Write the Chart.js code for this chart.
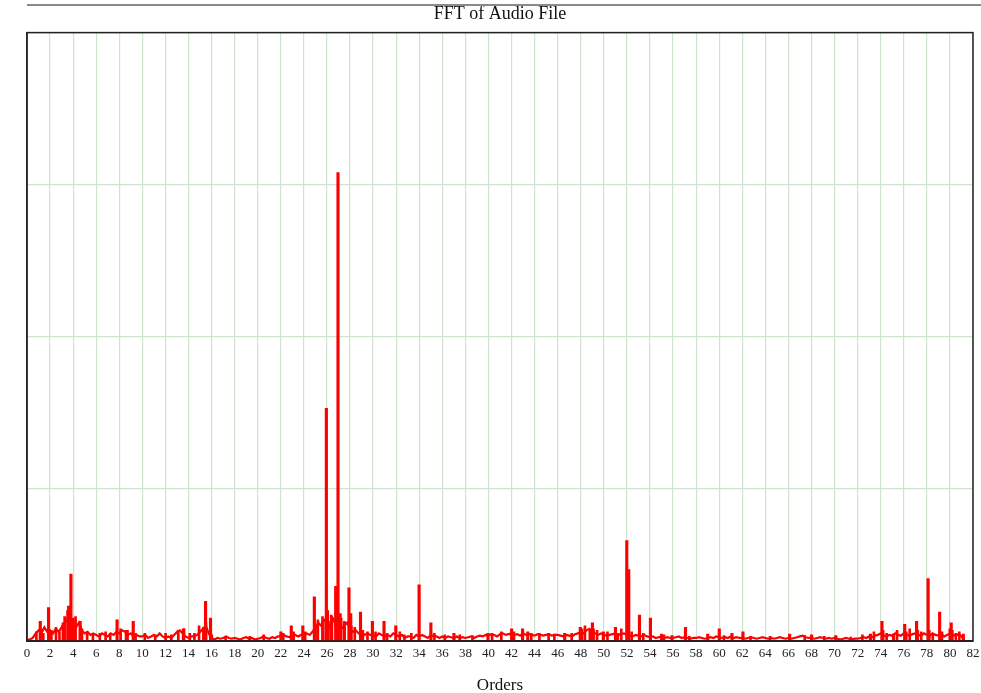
<!DOCTYPE html>
<html>
<head>
<meta charset="utf-8">
<script src="https://cdn.jsdelivr.net/npm/chart.js@4"></script>
<style>
  body { margin: 0; background: #fff; overflow: hidden; }
  #wrap { position: relative; width: 981px; height: 693px; overflow: hidden; }
  #topline { position: absolute; left: 27px; top: 4px; width: 954px; border-top: 2px solid #8a8a8a; }
</style>
</head>
<body>
<div id="wrap">
  <div id="topline"></div>
  <canvas id="myChart" width="990" height="693"></canvas>
</div>
<script>
// background spectrum, one value every 0.25 order starting at 0
const noiseStart = 0;
const noiseStep = 0.25;
const noise = [
  0.01, 0.01, 0.02, 0.05, 0.07, 0.05, 0.09, 0.06,
  0.07, 0.05, 0.08, 0.06, 0.09, 0.12, 0.14, 0.1,
  0.11, 0.09, 0.12, 0.07, 0.05, 0.06, 0.04, 0.05,
  0.04, 0.03, 0.05, 0.04, 0.03, 0.05, 0.04, 0.06,
  0.05, 0.07, 0.06, 0.04, 0.05, 0.03, 0.04, 0.03,
  0.03, 0.04, 0.02, 0.03, 0.04, 0.03, 0.05, 0.03,
  0.02, 0.03, 0.02, 0.04, 0.06, 0.07, 0.05, 0.03,
  0.02, 0.03, 0.03, 0.04, 0.06, 0.08, 0.1, 0.05,
  0.02, 0.01, 0.02, 0.015, 0.02, 0.03, 0.02, 0.015,
  0.02, 0.015, 0.01, 0.02, 0.025, 0.015, 0.02, 0.01,
  0.015, 0.02, 0.03, 0.02, 0.015, 0.025, 0.02, 0.03,
  0.03, 0.04, 0.03, 0.025, 0.035, 0.04, 0.03, 0.04,
  0.04, 0.05, 0.04, 0.06, 0.09, 0.12, 0.1, 0.14,
  0.12, 0.09, 0.15, 0.11, 0.13, 0.08, 0.1, 0.12,
  0.08, 0.06, 0.07, 0.05, 0.06, 0.04, 0.05, 0.04,
  0.04, 0.03, 0.05, 0.04, 0.03, 0.04, 0.03, 0.05,
  0.04, 0.03, 0.04, 0.02, 0.03, 0.03, 0.02, 0.04,
  0.03, 0.04, 0.03, 0.02, 0.04, 0.03, 0.03, 0.02,
  0.03, 0.02, 0.03, 0.025, 0.02, 0.03, 0.02, 0.025,
  0.02, 0.025, 0.03, 0.02, 0.03, 0.035, 0.03, 0.04,
  0.035, 0.045, 0.04, 0.03, 0.045, 0.05, 0.04, 0.045,
  0.05, 0.04, 0.045, 0.035, 0.05, 0.04, 0.045, 0.04,
  0.035, 0.045, 0.04, 0.035, 0.04, 0.045, 0.035, 0.04,
  0.04, 0.035, 0.03, 0.04, 0.035, 0.03, 0.045, 0.05,
  0.06, 0.05, 0.07, 0.08, 0.06, 0.05, 0.04, 0.05,
  0.04, 0.035, 0.04, 0.045, 0.05, 0.04, 0.045, 0.05,
  0.04, 0.035, 0.03, 0.04, 0.035, 0.03, 0.04, 0.03,
  0.025, 0.03, 0.02, 0.025, 0.03, 0.02, 0.025, 0.02,
  0.02, 0.025, 0.03, 0.02, 0.025, 0.02, 0.015, 0.02,
  0.02, 0.025, 0.02, 0.015, 0.02, 0.025, 0.02, 0.03,
  0.025, 0.02, 0.025, 0.02, 0.03, 0.02, 0.025, 0.02,
  0.02, 0.015, 0.02, 0.025, 0.02, 0.015, 0.02, 0.025,
  0.02, 0.015, 0.02, 0.015, 0.02, 0.025, 0.02, 0.015,
  0.02, 0.015, 0.02, 0.025, 0.03, 0.035, 0.025, 0.02,
  0.02, 0.015, 0.02, 0.025, 0.02, 0.015, 0.02, 0.015,
  0.02, 0.015, 0.01, 0.015, 0.02, 0.015, 0.01, 0.015,
  0.015, 0.02, 0.025, 0.02, 0.03, 0.025, 0.035, 0.04,
  0.05, 0.035, 0.03, 0.04, 0.035, 0.05, 0.04, 0.035,
  0.05, 0.04, 0.035, 0.045, 0.05, 0.04, 0.035, 0.05,
  0.04, 0.035, 0.05, 0.04, 0.035, 0.045, 0.03, 0.04,
  0.05, 0.04, 0.035, 0.045, 0.03, 0.01
];

// strong spectral lines
const peakOrders = [
  1.04, 1.76, 3.5, 3.7, 3.9, 4.5, 7.7, 8.5, 9.1, 13.45, 15.2, 15.37, 15.8,
  21.9, 22.8, 23.8, 24.8, 25.55, 25.84, 26.0, 26.3, 26.65, 26.85, 27.1, 27.4,
  27.8, 27.95, 28.8, 29.83, 30.84, 31.86, 33.88, 34.9, 36.9, 39.85, 41.9,
  42.85, 43.3, 46.5, 47.85, 48.7, 48.9, 49.85, 50.9, 51.88, 52.05, 52.98,
  53.93, 54.9, 55.8, 56.97, 58.9, 59.9, 61.0, 61.95, 66.0, 67.9, 70.0, 73.0,
  74.0, 75.0, 75.97, 77.0, 78.0, 79.0, 79.9, 80.0, 81.05
];
const peakValues = [
  0.13, 0.22, 0.23, 0.44, 0.15, 0.13, 0.14, 0.07, 0.13, 0.08, 0.09, 0.26, 0.15,
  0.06, 0.10, 0.10, 0.29, 0.13, 1.53, 0.13, 0.15, 0.36, 3.08, 0.15, 0.12,
  0.35, 0.18, 0.19, 0.13, 0.13, 0.10, 0.37, 0.12, 0.05, 0.05, 0.08,
  0.08, 0.06, 0.05, 0.09, 0.07, 0.12, 0.06, 0.09, 0.66, 0.47, 0.17,
  0.15, 0.045, 0.035, 0.09, 0.045, 0.08, 0.05, 0.06, 0.045, 0.04, 0.035, 0.045,
  0.13, 0.045, 0.11, 0.13, 0.41, 0.19, 0.08, 0.12, 0.045
];

// small lines in the noise floor
const minorOrders = [
  0.9, 1.3, 1.5, 2.2, 2.6, 2.9, 3.2, 3.35, 3.6, 3.8, 4.1, 4.3, 4.7, 4.85,
  5.3, 5.8, 6.4, 6.9, 7.3, 8.2, 8.8, 9.5, 10.3, 11.2, 12.1, 12.6, 13.2, 13.7,
  14.2, 14.6, 15.0, 15.6, 16.1, 17.3, 19.4, 20.6, 22.3, 23.2, 24.2, 25.1,
  25.3, 25.7, 26.15, 26.45, 26.95, 27.25, 27.6, 28.2, 28.5, 29.2, 29.6, 30.3,
  31.3, 32.4, 32.8, 33.4, 35.4, 36.3, 37.6, 38.7, 40.4, 41.2, 42.3, 43.8,
  44.5, 45.3, 45.8, 47.3, 48.2, 48.45, 49.2, 49.5, 50.4, 51.3, 51.6, 52.5,
  53.5, 55.3, 57.5, 60.5, 62.8, 64.5, 67.5, 69.2, 71.5, 72.5, 73.5, 74.3,
  74.6, 75.5, 76.3, 76.6, 77.3, 77.6, 78.3, 78.6, 79.4, 80.3, 80.6, 80.9
];
const minorValues = [
  0.06, 0.08, 0.05, 0.07, 0.09, 0.06, 0.12, 0.16, 0.2, 0.18, 0.12, 0.16, 0.1, 0.08,
  0.06, 0.05, 0.05, 0.06, 0.05, 0.08, 0.07, 0.05, 0.05, 0.04, 0.05, 0.04, 0.07, 0.08,
  0.05, 0.05, 0.1, 0.12, 0.04, 0.03, 0.03, 0.04, 0.05, 0.06, 0.06, 0.09,
  0.14, 0.16, 0.2, 0.17, 0.22, 0.18, 0.13, 0.1, 0.09, 0.07, 0.06, 0.06,
  0.05, 0.06, 0.04, 0.05, 0.05, 0.04, 0.04, 0.035, 0.05, 0.06, 0.06, 0.05,
  0.05, 0.05, 0.045, 0.05, 0.08, 0.1, 0.08, 0.07, 0.06, 0.05, 0.08, 0.06,
  0.05, 0.04, 0.03, 0.035, 0.03, 0.03, 0.035, 0.03, 0.025, 0.04, 0.06, 0.07,
  0.05, 0.07, 0.06, 0.08, 0.07, 0.06, 0.07, 0.05, 0.06, 0.07, 0.05, 0.06
];

const xMin = 0;
const xMax = 82;
const xStep = 2;
const yMax = 4;

const noisePoints = noise.map((v, i) => ({ x: noiseStart + i * noiseStep, y: v }));
const peakPoints = peakOrders.map((o, i) => ({ x: o, y: peakValues[i] }));
const minorPoints = minorOrders.map((o, i) => ({ x: o, y: minorValues[i] }));

const frame = {
  id: "frame",
  afterDraw(chart) {
    const { ctx, chartArea: a } = chart;
    ctx.save();
    ctx.strokeStyle = "#222";
    ctx.lineWidth = 1.5;
    ctx.strokeRect(a.left, a.top, a.right - a.left, a.bottom - a.top);
    ctx.restore();
  },
};

const ctx = document.getElementById("myChart");

new Chart(ctx, {
  type: "scatter",
  data: {
    datasets: [
      {
        type: "line",
        data: noisePoints,
        borderColor: "#ff0000",
        borderWidth: 2.2,
        pointRadius: 0,
        tension: 0,
        fill: false,
      },
      {
        type: "bar",
        data: minorPoints,
        backgroundColor: "#ff0000",
        borderWidth: 0,
        barThickness: 2,
      },
      {
        type: "bar",
        data: peakPoints,
        backgroundColor: "#ff0000",
        borderWidth: 0,
        barThickness: 2.5,
      },
    ],
  },
  plugins: [frame],
  options: {
    responsive: false,
    animation: false,
    layout: { padding: { left: 27, right: 17, top: 0, bottom: 0 } },
    plugins: {
      legend: { display: false },
      tooltip: { enabled: false },
      title: {
        display: true,
        text: "FFT of Audio File",
        color: "#111",
        font: { family: "Liberation Serif", size: 18, weight: "normal" },
        padding: { top: 3, bottom: 8 },
      },
    },
    scales: {
      x: {
        type: "linear",
        min: xMin,
        max: xMax,
        offset: false,
        ticks: {
          stepSize: xStep,
          autoSkip: false,
          maxRotation: 0,
          padding: 5,
          color: "#222",
          font: { family: "Liberation Serif", size: 13 },
        },
        grid: { color: "#cfe3cf", lineWidth: 1.2, drawTicks: false, offset: false },
        border: { color: "#222", width: 2 },
        title: {
          display: true,
          text: "Orders",
          color: "#111",
          font: { family: "Liberation Serif", size: 17 },
          padding: { top: 9, bottom: -3 },
        },
      },
      y: {
        min: 0,
        max: yMax,
        ticks: { display: false, stepSize: 1 },
        grid: { color: "#cfe3cf", lineWidth: 1.2, drawTicks: false },
        border: { color: "#333", width: 1.5 },
      },
    },
  },
});
</script>
</body>
</html>
